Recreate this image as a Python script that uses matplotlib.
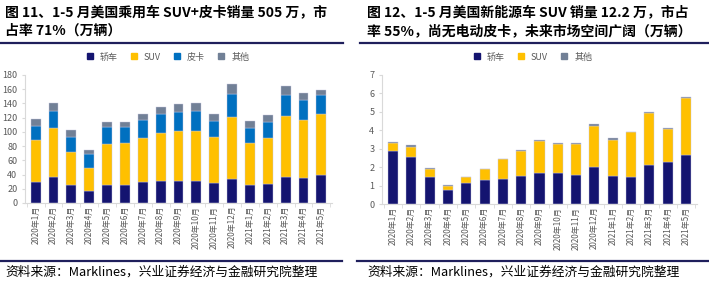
import numpy as np
import matplotlib
matplotlib.use("Agg")
import matplotlib.pyplot as plt
from matplotlib.lines import Line2D

plt.rcParams["font.family"] = ["Noto Sans CJK SC", "DejaVu Sans"]

W, H = 709, 281

months = ["2020年1月", "2020年2月", "2020年3月", "2020年4月", "2020年5月", "2020年6月",
          "2020年7月", "2020年8月", "2020年9月", "2020年10月", "2020年11月", "2020年12月",
          "2021年1月", "2021年2月", "2021年3月", "2021年4月", "2021年5月"]

# figure 11: US passenger vehicle sales (10k units)
car = [30, 36, 26, 16.5, 25, 25, 29, 30.5, 31, 31, 28.7, 34.4, 25, 26.4, 36.8, 35.8, 39.1]
suv = [58, 69, 46, 33, 58, 60, 63, 68, 69.7, 70.3, 63.7, 86.2, 59.4, 64.6, 86.2, 81.5, 85.8]
pickup = [20.5, 24.6, 20.3, 18.8, 23.5, 21.2, 24.5, 26.4, 27.4, 27.7, 23.6, 33, 21.6, 22.6, 28.7, 26.9, 26.8]
other = [9.4, 10.8, 10.3, 6.2, 7.1, 8, 8.5, 10.3, 10.8, 11.4, 8.9, 13.7, 9, 9.9, 12.3, 10.8, 6.6]

# figure 12: US new-energy vehicle sales (10k units)
ev_car = [2.87, 2.57, 1.46, 0.78, 1.12, 1.32, 1.37, 1.5, 1.7, 1.66, 1.56, 2.0, 1.5, 1.46, 2.1, 2.26, 2.68]
ev_suv = [0.45, 0.53, 0.46, 0.2, 0.34, 0.56, 1.05, 1.39, 1.7, 1.61, 1.71, 2.25, 2.0, 2.43, 2.84, 1.83, 3.09]
ev_other = [0.05, 0.08, 0.05, 0.05, 0.02, 0.03, 0.04, 0.06, 0.07, 0.04, 0.03, 0.08, 0.07, 0.03, 0.07, 0.05, 0.03]

C_CAR, C_SUV, C_PICK, C_OTH = "#141470", "#ffc000", "#0070c0", "#718096"
NAVY = "#1f1f5c"

fig = plt.figure(figsize=(W / 100, H / 100), dpi=100)


def box(l, t, r, b):
    return [l / W, 1 - b / H, (r - l) / W, (b - t) / H]


def style(ax, ymax, ystep):
    x = np.arange(len(months))
    ax.set_xlim(-0.6, len(months) - 0.4)
    ax.set_ylim(0, ymax)
    ax.set_yticks(np.arange(0, ymax + 0.01, ystep))
    ax.set_xticks(x)
    ax.set_xticklabels(months, rotation=90, fontsize=5.8, color="#595959")
    ax.tick_params(axis="y", labelsize=6.5, colors="#595959", length=2, color="#d9d9d9")
    ax.tick_params(axis="x", length=0, pad=2)
    ax.set_xticks(np.arange(len(months) + 1) - 0.5, minor=True)
    ax.tick_params(axis="x", which="minor", length=3, color="#d9d9d9")
    for s in ["top", "right"]:
        ax.spines[s].set_visible(False)
    for s in ["left", "bottom"]:
        ax.spines[s].set_color("#d9d9d9")
        ax.spines[s].set_linewidth(0.8)


def legend(ax, items, cx, cy):
    handles = [Line2D([], [], marker="s", ls="", color=c, markersize=5) for _, c in items]
    fig.legend(handles, [n for n, _ in items], loc="center", bbox_to_anchor=(cx / W, 1 - cy / H),
               ncol=len(items), frameon=False, fontsize=6.5, handletextpad=0.1,
               columnspacing=0.8, labelcolor="#595959")


# ---- left panel
ax1 = fig.add_axes(box(25, 75, 332, 203))
x = np.arange(len(months))
bw = 0.55
b = np.zeros(len(months))
for vals, col in [(car, C_CAR), (suv, C_SUV), (pickup, C_PICK), (other, C_OTH)]:
    ax1.bar(x, vals, bw, bottom=b, color=col, edgecolor="#c8c8e0", linewidth=0.3)
    b += np.array(vals)
style(ax1, 180, 20)
legend(ax1, [("轿车", C_CAR), ("SUV", C_SUV), ("皮卡", C_PICK), ("其他", C_OTH)], 165, 57)

# ---- right panel
ax2 = fig.add_axes(box(382, 75, 697, 204))
b = np.zeros(len(months))
for vals, col in [(ev_car, C_CAR), (ev_suv, C_SUV), (ev_other, C_OTH)]:
    ax2.bar(x, vals, bw, bottom=b, color=col, edgecolor="#c8c8e0", linewidth=0.3)
    b += np.array(vals)
style(ax2, 7, 1)
legend(ax2, [("轿车", C_CAR), ("SUV", C_SUV), ("其他", C_OTH)], 530, 57)

# ---- titles, rules and source
tkw = dict(fontsize=10, fontweight="bold", color="black", va="center", ha="left")
fig.text(5 / W, 1 - 12 / H, "图 11、1-5 月美国乘用车 SUV+皮卡销量 505 万，市", **tkw)
fig.text(5 / W, 1 - 31 / H, "占率 71%（万辆）", **tkw)
fig.text(367 / W, 1 - 12 / H, "图 12、1-5 月美国新能源车 SUV 销量 12.2 万，市占", **tkw)
fig.text(367 / W, 1 - 31 / H, "率 55%，尚无电动皮卡，未来市场空间广阔（万辆）", **tkw)

for (x0, x1), y in [((0, 343), 43), ((360, 709), 43), ((0, 342), 261), ((357, 709), 261)]:
    fig.add_artist(Line2D([x0 / W, x1 / W], [1 - y / H, 1 - y / H], color=NAVY, lw=1.6))

skw = dict(fontsize=9.2, color="black", va="center", ha="left")
fig.text(5 / W, 1 - 272 / H, "资料来源：Marklines，兴业证券经济与金融研究院整理", **skw)
fig.text(367 / W, 1 - 272 / H, "资料来源：Marklines，兴业证券经济与金融研究院整理", **skw)

fig.savefig("out.png", dpi=100)
